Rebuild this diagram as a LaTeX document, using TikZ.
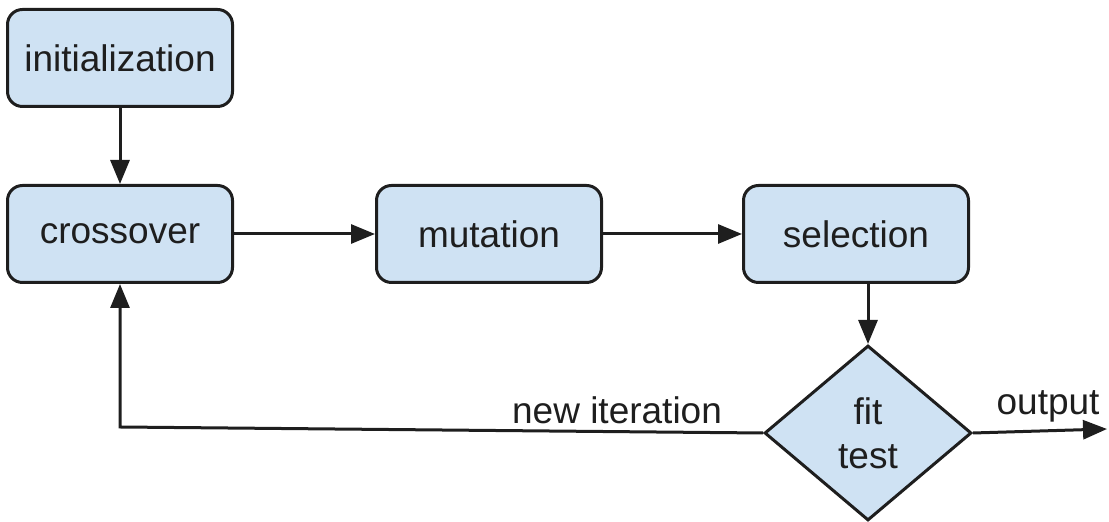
\documentclass[tikz,border=0pt]{standalone}
\usepackage{fontspec}
\setmainfont{Liberation Sans}
\usepackage{xcolor}
\usepackage{tikz}
\usetikzlibrary{arrows.meta,positioning,shapes.geometric}

\definecolor{boxblue}{HTML}{CFE2F3}
\definecolor{inkgray}{HTML}{1E1E1E}

\begin{document}
\begin{tikzpicture}[
    x = 0.5pt, y = -0.5pt,
    stage/.style={
        rectangle, % shape
        rounded corners = 7.5pt,
        minimum width = 112.5pt, minimum height = 48.5pt, %size
        line width = 1.5pt, %border
        draw = inkgray,
        fill = boxblue,%the filling
        text = inkgray,
        text depth = 0pt,
        font = \fontsize{18.5}{22}\selectfont %font
      },
    check/.style={
        diamond,
        minimum width = 103.5pt, minimum height = 87.5pt,
        inner sep = 0pt,
        line width = 1.5pt,
        draw = inkgray,
        fill = boxblue,
        text = inkgray,
        align = center,
        font = \fontsize{18.5}{22}\selectfont
      },
    flow/.style={
        line width = 1.5pt,
        draw = inkgray,
        -{Triangle[length=12pt,width=9.5pt]}
      },
    tag/.style={
        text = inkgray,
        font = \fontsize{18.5}{22}\selectfont
      }]
  \useasboundingbox (0,0) rectangle (1109,522);

  \node [stage] (init) at (120,58) {initialization};
  \node [stage] (cross) at (120,234) {crossover};
  \node [stage] (mut) at (489,234) {mutation};
  \node [stage] (sel) at (856,234) {selection};
  \node [check] (fit) at (868,433) {fit\\test};
  \coordinate (back) at (120,427);
  \coordinate (out) at (1107,429);

  \draw [flow] (init) -- (cross);
  \draw [flow] (cross) -- (mut);
  \draw [flow] (mut) -- (sel);
  \draw [flow] ([xshift=6pt]sel.south) -- (fit.north);
  \draw [flow] (fit.east) -- node [tag, above, pos=0.56] {output} (out);
  \draw [flow] (fit.west) -- node [tag, above, pos=0.227] {new iteration} (back) -- (cross.south);
\end{tikzpicture}
\end{document}
